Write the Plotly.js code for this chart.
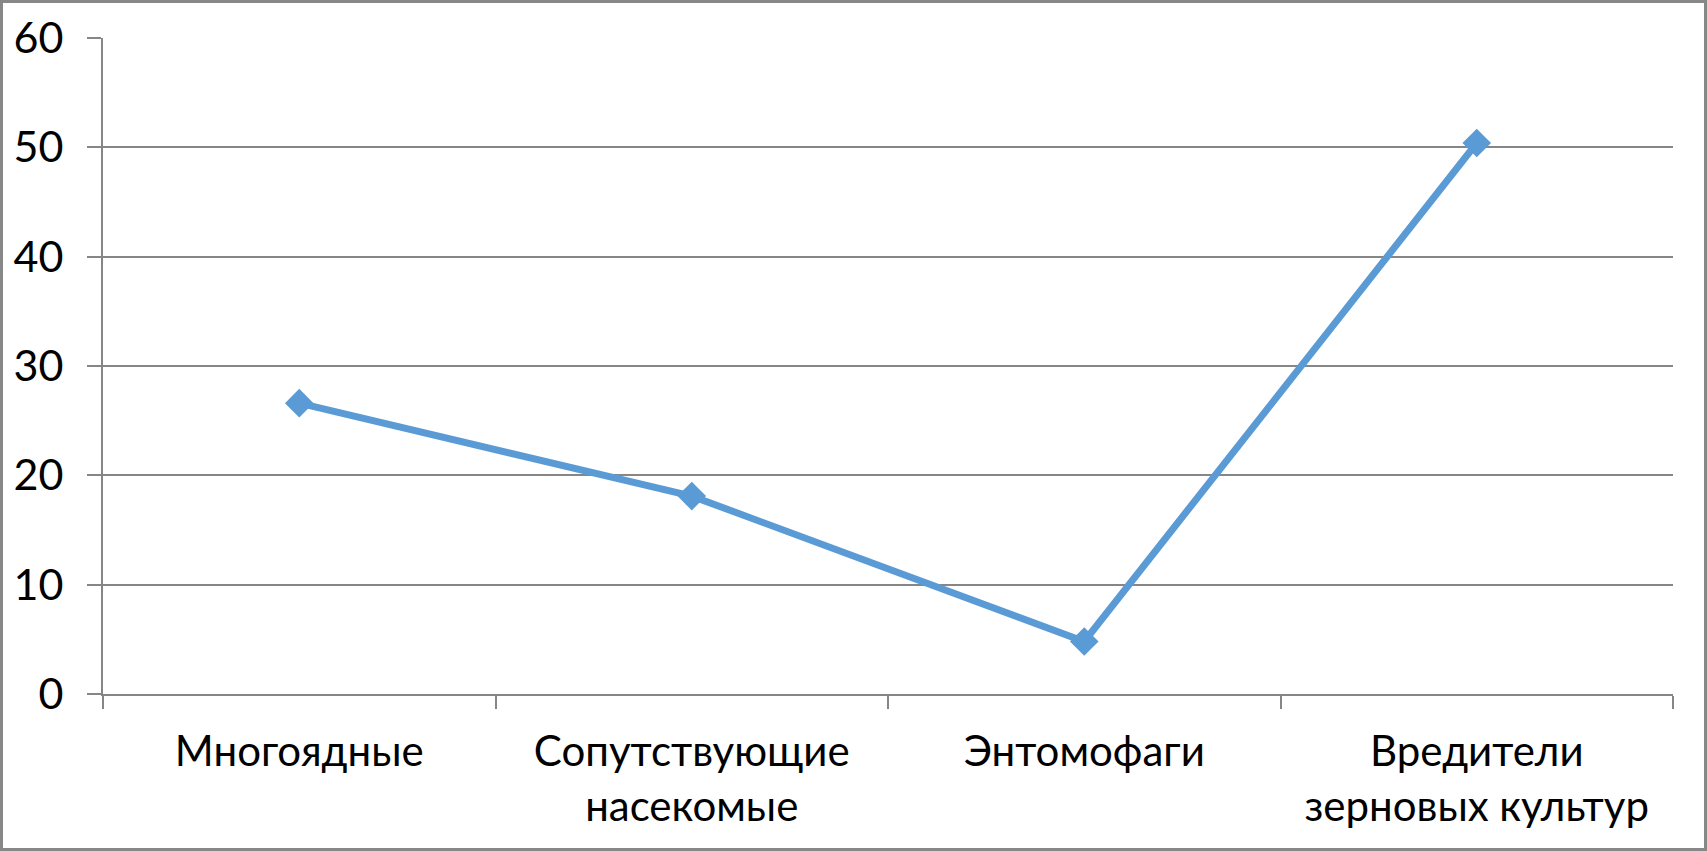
<!DOCTYPE html>
<html>
<head>
<meta charset="utf-8">
<script src="https://cdn.plot.ly/plotly-3.0.1.min.js"></script>
<style>
  html, body { margin: 0; padding: 0; background: #fff; }
  #wrap { position: relative; width: 1707px; height: 851px; }
  #chart { position: absolute; left: 0; top: 0; width: 1707px; height: 851px; }
  #frame { position: absolute; left: 0; top: 0; width: 1707px; height: 851px; box-sizing: border-box; border: 3px solid #878787; pointer-events: none; }
</style>
</head>
<body>
<div id="wrap">
  <div id="chart"></div>
  <div id="frame"></div>
</div>
<script>
const categories = ["Многоядные", "Сопутствующие<br>насекомые", "Энтомофаги", "Вредители<br>зерновых культур"];
const values = [26.6, 18.1, 4.8, 50.4];
const yTicks = [0, 10, 20, 30, 40, 50, 60];

const FONT = "Lato, 'Liberation Sans', sans-serif";

const trace = {
  type: "scatter",
  mode: "lines+markers",
  x: categories,
  y: values,
  line: { color: "#5B9BD5", width: 7 },
  marker: { symbol: "diamond", size: 22, color: "#5B9BD5" },
  cliponaxis: false,
  hoverinfo: "x+y"
};

const layout = {
  width: 1707,
  height: 851,
  margin: { l: 103, r: 34, t: 38, b: 157 },
  paper_bgcolor: "#ffffff",
  plot_bgcolor: "#ffffff",
  showlegend: false,
  font: { family: FONT, size: 42, color: "#000000" },
  xaxis: {
    type: "category",
    tickson: "boundaries",
    ticks: "outside",
    ticklen: 13,
    tickwidth: 2,
    tickcolor: "#868686",
    showline: true,
    linecolor: "#868686",
    linewidth: 2,
    showgrid: false,
    zeroline: false,
    tickfont: { family: FONT, size: 42, color: "#000" },
    ticklabelstandoff: 20,
    range: [-0.5, 3.5]
  },
  yaxis: {
    range: [0, 60],
    tickmode: "array",
    tickvals: yTicks,
    ticktext: yTicks.map(String),
    ticks: "outside",
    ticklen: 14,
    tickwidth: 2,
    tickcolor: "#868686",
    showline: true,
    linecolor: "#868686",
    linewidth: 2,
    showgrid: true,
    gridcolor: "#868686",
    gridwidth: 2,
    zeroline: false,
    tickfont: { family: FONT, size: 43, color: "#000" },
    ticklabelstandoff: 15
  }
};

Plotly.newPlot("chart", [trace], layout, { displayModeBar: false, staticPlot: true });
</script>
</body>
</html>
